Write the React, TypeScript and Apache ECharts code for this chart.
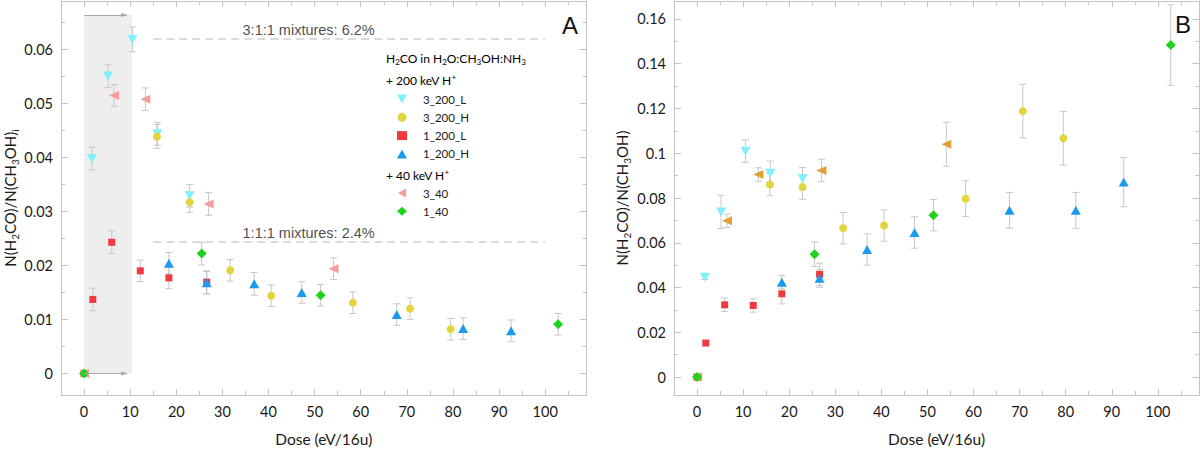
import React, { useEffect, useRef } from "react";
import * as echarts from "echarts";

// ---------------- DATA ----------------
const seriesNames = ["3_200_L", "3_200_H", "1_200_L", "1_200_H", "3_40", "1_40"];

// Dose (eV/16u) per series (shared by panels A and B)
const dose_3_200_L = [1.7, 5.2, 10.5, 15.9, 22.9];
const dose_3_200_H = [15.8, 22.9, 31.7, 40.6, 58.3, 70.7, 79.5];
const dose_1_200_L = [0, 1.9, 6.0, 12.2, 18.4, 26.6];
const dose_1_200_H = [18.4, 26.6, 36.9, 47.2, 67.8, 82.2, 92.6];
const dose_3_40 = [0, 6.5, 13.3, 27.0, 54.1];
const dose_1_40 = [0, 25.5, 51.3, 102.8];

// Panel A: N(H2CO)/N(CH3OH)_i
const a_3_200_L = [0.0398, 0.0551, 0.0619, 0.0444, 0.0329];
const a_3_200_L_err = [0.0021, 0.0021, 0.0023, 0.0021, 0.0021];
const a_3_200_H = [0.0439, 0.0317, 0.0191, 0.0144, 0.0131, 0.012, 0.0082];
const a_3_200_H_err = [0.0022, 0.0019, 0.002, 0.002, 0.002, 0.002, 0.002];
const a_1_200_L = [0, 0.0137, 0.0243, 0.019, 0.0177, 0.0169];
const a_1_200_L_err = [0, 0.0021, 0.0021, 0.002, 0.002, 0.0021];
const a_1_200_H = [0.0204, 0.0168, 0.0166, 0.015, 0.0109, 0.0083, 0.0079];
const a_1_200_H_err = [0.002, 0.0021, 0.0021, 0.002, 0.002, 0.002, 0.002];
const a_3_40 = [0, 0.0515, 0.0508, 0.0314, 0.0194];
const a_3_40_err = [0, 0.002, 0.0021, 0.0021, 0.002];
const a_1_40 = [0, 0.0222, 0.0145, 0.0091];
const a_1_40_err = [0, 0.0021, 0.002, 0.002];

// Panel B: N(H2CO)/N(CH3OH)
const b_3_200_L = [0.0446, 0.0738, 0.1009, 0.0911, 0.0886];
const b_3_200_L_err = [0.001, 0.0074, 0.005, 0.0054, 0.005];
const b_3_200_H = [0.086, 0.0849, 0.0665, 0.0677, 0.0797, 0.1188, 0.1067];
const b_3_200_H_err = [0.005, 0.0055, 0.007, 0.007, 0.008, 0.012, 0.012];
const b_1_200_L = [0, 0.0152, 0.0323, 0.032, 0.0372, 0.0459];
const b_1_200_L_err = [0, 0.001, 0.003, 0.003, 0.0045, 0.005];
const b_1_200_H = [0.0424, 0.0441, 0.057, 0.0646, 0.0745, 0.0745, 0.0871];
const b_1_200_H_err = [0.003, 0.004, 0.007, 0.007, 0.008, 0.008, 0.011];
const b_3_40 = [0, 0.0698, 0.0905, 0.0923, 0.104];
const b_3_40_err = [0, 0.003, 0.003, 0.005, 0.0098];
const b_1_40 = [0, 0.0549, 0.0723, 0.1483];
const b_1_40_err = [0, 0.0055, 0.007, 0.018];

// Axis ticks
const xTicks = [0, 10, 20, 30, 40, 50, 60, 70, 80, 90, 100];
const xMinorTicks = [-5, 5, 15, 25, 35, 45, 55, 65, 75, 85, 95, 105];
const yTicksA = [0, 0.01, 0.02, 0.03, 0.04, 0.05, 0.06];
const yMinorTicksA = [0.005, 0.015, 0.025, 0.035, 0.045, 0.055, 0.065];
const yTicksB = [0, 0.02, 0.04, 0.06, 0.08, 0.1, 0.12, 0.14, 0.16];
const yMinorTicksB = [0.01, 0.03, 0.05, 0.07, 0.09, 0.11, 0.13, 0.15];

// Reference levels in panel A
const refLabels = ["3:1:1 mixtures: 6.2%", "1:1:1 mixtures: 2.4%"];
const refValues = [0.062, 0.0244];
const refLabelValues = [0.0636, 0.026];
const refFrom = 15;
const refTo = 100;
const refLabelDose = 48.7;

// Shaded dose interval in panel A
const shadeDose = [0, 10.4];
const shadeTop = 0.0664;
const arrowEnd = 8.8;

// ---------------- STYLE ----------------
const FONT = "Lato, 'Liberation Sans', sans-serif";
const ARIAL = "'Liberation Sans', Arial, sans-serif";
const AXIS_COLOR = "#c4c4c4";
const TEXT = "#1a1a1a";
const colorsA = ["#7ff1fc", "#e2d43c", "#ef3b3f", "#1c9bee", "#f79c9c", "#20d21e"];
const colorsB = ["#7ff1fc", "#e2d43c", "#ef3b3f", "#1c9bee", "#e0a034", "#20d21e"];
const symbols = ["triangle", "circle", "rect", "triangle", "triangle", "diamond"];
const rotations = [180, 0, 0, 0, 90, 0];
const sizes = [[10, 9], 8, 7, [10, 9], [9, 10], [10, 10]];
const legendIcons = [
  "path://M0,0L10,0L5,9Z",
  "circle",
  "rect",
  "triangle",
  "path://M9,0L9,10L0,5Z",
  "diamond",
];

const doses = [dose_3_200_L, dose_3_200_H, dose_1_200_L, dose_1_200_H, dose_3_40, dose_1_40];
const valsA = [a_3_200_L, a_3_200_H, a_1_200_L, a_1_200_H, a_3_40, a_1_40];
const errsA = [a_3_200_L_err, a_3_200_H_err, a_1_200_L_err, a_1_200_H_err, a_3_40_err, a_1_40_err];
const valsB = [b_3_200_L, b_3_200_H, b_1_200_L, b_1_200_H, b_3_40, b_1_40];
const errsB = [b_3_200_L_err, b_3_200_H_err, b_1_200_L_err, b_1_200_H_err, b_3_40_err, b_1_40_err];

const subRich = {
  n: { fontSize: 15, fontFamily: FONT, color: TEXT, lineHeight: 20 },
  s: { fontSize: 10, fontFamily: FONT, color: TEXT, lineHeight: 12, verticalAlign: "bottom" },
};

function xAxes(gridIndex: number, withName: boolean) {
  const base = {
    type: "value",
    gridIndex,
    min: -5,
    max: 109,
    splitLine: { show: false },
  };
  const line = { lineStyle: { color: AXIS_COLOR, width: 1 } };
  return [
    {
      ...base,
      position: "bottom",
      name: withName ? "Dose (eV/16u)" : "",
      nameLocation: "middle",
      nameGap: 36,
      nameTextStyle: { fontFamily: FONT, fontSize: 15.5, color: TEXT },
      axisLine: { show: true, onZero: false, ...line },
      axisTick: { show: true, inside: true, length: 6, customValues: xTicks, ...line },
      axisLabel: { show: true, customValues: xTicks, fontFamily: FONT, fontSize: 14.5, color: TEXT, margin: 9 },
    },
    {
      ...base,
      position: "top",
      axisLine: { show: true, onZero: false, ...line },
      axisTick: { show: true, inside: true, length: 6, customValues: xTicks, ...line },
      axisLabel: { show: false },
    },
    {
      ...base,
      position: "bottom",
      axisLine: { show: false, onZero: false },
      axisTick: { show: true, inside: true, length: 4, customValues: xMinorTicks, ...line },
      axisLabel: { show: false },
    },
    {
      ...base,
      position: "top",
      axisLine: { show: false, onZero: false },
      axisTick: { show: true, inside: true, length: 4, customValues: xMinorTicks, ...line },
      axisLabel: { show: false },
    },
  ];
}

function yAxes(gridIndex: number, min: number, max: number, majors: number[], minors: number[], name: string, nameGap: number) {
  const base = { type: "value", gridIndex, min, max, splitLine: { show: false } };
  const line = { lineStyle: { color: AXIS_COLOR, width: 1 } };
  return [
    {
      ...base,
      position: "left",
      name,
      nameLocation: "middle",
      nameRotate: 90,
      nameGap,
      nameTextStyle: { rich: subRich },
      axisLine: { show: true, onZero: false, ...line },
      axisTick: { show: true, inside: true, length: 7, customValues: majors, ...line },
      axisLabel: { show: true, customValues: majors, fontFamily: FONT, fontSize: 14.5, color: TEXT, margin: 8 },
    },
    {
      ...base,
      position: "right",
      axisLine: { show: true, onZero: false, ...line },
      axisTick: { show: true, inside: true, length: 7, customValues: majors, ...line },
      axisLabel: { show: false },
    },
    {
      ...base,
      position: "left",
      axisLine: { show: false, onZero: false },
      axisTick: { show: true, inside: true, length: 4, customValues: minors, ...line },
      axisLabel: { show: false },
    },
    {
      ...base,
      position: "right",
      axisLine: { show: false, onZero: false },
      axisTick: { show: true, inside: true, length: 4, customValues: minors, ...line },
      axisLabel: { show: false },
    },
  ];
}

function errorSeries(name: string, axisIndex: number, vals: number[][], errs: number[][]) {
  const data: number[][] = [];
  doses.forEach((d, i) => d.forEach((x, j) => data.push([x, vals[i][j], errs[i][j]])));
  return {
    name,
    type: "custom",
    xAxisIndex: axisIndex,
    yAxisIndex: axisIndex,
    z: 2,
    silent: true,
    data,
    renderItem: (params: any, api: any) => {
      const x = api.value(0);
      const y = api.value(1);
      const e = api.value(2);
      if (!e) return { type: "group", children: [] };
      const top = api.coord([x, y + e]);
      const bot = api.coord([x, y - e]);
      const cap = 3.5;
      const style = { stroke: "#c8c8c8", lineWidth: 1 };
      return {
        type: "group",
        children: [
          { type: "line", shape: { x1: top[0], y1: top[1], x2: bot[0], y2: bot[1] }, style },
          { type: "line", shape: { x1: top[0] - cap, y1: top[1], x2: top[0] + cap, y2: top[1] }, style },
          { type: "line", shape: { x1: bot[0] - cap, y1: bot[1], x2: bot[0] + cap, y2: bot[1] }, style },
        ],
      };
    },
  };
}

function scatterSeries(axisIndex: number, vals: number[][], colors: string[]) {
  return seriesNames.map((name, i) => ({
    name,
    type: "scatter",
    xAxisIndex: axisIndex,
    yAxisIndex: axisIndex,
    z: 3,
    symbol: symbols[i],
    symbolRotate: rotations[i],
    symbolSize: sizes[i],
    itemStyle: { color: colors[i], opacity: 1 },
    data: doses[i].map((x, j) => [x, vals[i][j]]),
  }));
}

export default function App() {
  const ref = useRef<HTMLDivElement>(null);

  useEffect(() => {
    if (!ref.current) return;
    const chart = echarts.init(ref.current, undefined, { renderer: "svg" });

    const decorA = {
      name: "decorA",
      type: "scatter",
      xAxisIndex: 0,
      yAxisIndex: 0,
      z: 1,
      silent: true,
      data: [],
      markArea: {
        silent: true,
        itemStyle: { color: "#eeeeee" },
        data: [[{ coord: [shadeDose[0], 0] }, { coord: [shadeDose[1], shadeTop] }]],
      },
      markLine: {
        silent: true,
        symbol: "none",
        label: { show: false },
        data: [
          ...refValues.map((v) => [
            { coord: [refFrom, v], lineStyle: { color: "#cfcfcf", width: 1.5, type: [8, 5] } },
            { coord: [refTo, v] },
          ]),
          [
            { coord: [shadeDose[0], shadeTop], symbol: "none", lineStyle: { color: "#a8a8a8", width: 1, type: "solid" } },
            { coord: [arrowEnd, shadeTop], symbol: "triangle", symbolSize: [4, 7], itemStyle: { color: "#6e6e6e" } },
          ],
          [
            { coord: [shadeDose[0], 0], symbol: "none", lineStyle: { color: "#a8a8a8", width: 1, type: "solid" } },
            { coord: [arrowEnd, 0], symbol: "triangle", symbolSize: [4, 7], itemStyle: { color: "#6e6e6e" } },
          ],
        ],
      },
    };

    const annot = {
      name: "annotA",
      type: "scatter",
      xAxisIndex: 0,
      yAxisIndex: 0,
      z: 4,
      silent: true,
      symbolSize: 1,
      itemStyle: { color: "rgba(0,0,0,0)" },
      data: refLabels.map((t, i) => ({
        value: [refLabelDose, refLabelValues[i]],
        label: { show: true, position: "inside", formatter: t, fontFamily: ARIAL, fontSize: 14.5, color: TEXT },
      })),
    };

    const legendText = { fontFamily: FONT, fontSize: 11.5, color: TEXT, lineHeight: 13, padding: [0, 0, 0, 11] };
    const headRich = {
      n: { fontSize: 12, fontFamily: FONT, color: TEXT, lineHeight: 15 },
      s: { fontSize: 8, fontFamily: FONT, color: TEXT, lineHeight: 9, verticalAlign: "bottom" },
      p: { fontSize: 8, fontFamily: FONT, color: TEXT, lineHeight: 9, verticalAlign: "top" },
    };
    const legendBase = {
      orient: "vertical",
      left: 397,
      padding: 0,
      itemWidth: 10,
      itemHeight: 9,
      itemGap: 5.3,
      selectedMode: false,
      textStyle: legendText,
    };
    const legendItems = seriesNames.map((name, i) => ({ name, icon: legendIcons[i] }));

    chart.setOption({
      animation: false,
      backgroundColor: "#ffffff",
      grid: [
        { left: 61, top: 1, width: 525.7, height: 396 },
        { left: 674, top: 1, width: 525.3, height: 396 },
      ],
      xAxis: [...xAxes(0, true), ...xAxes(1, true)],
      yAxis: [
        ...yAxes(0, -0.004, 0.069, yTicksA, yMinorTicksA, "{n|N(H}{s|2}{n|CO)/N(CH}{s|3}{n|OH)}{s|i}", 36),
        ...yAxes(1, -0.008, 0.168, yTicksB, yMinorTicksB, "{n|N(H}{s|2}{n|CO)/N(CH}{s|3}{n|OH)}", 42),
      ],
      legend: [
        { ...legendBase, data: legendItems.slice(0, 4), top: 92.5 },
        { ...legendBase, data: legendItems.slice(4), top: 186.5 },
      ],
      graphic: [
        {
          type: "text",
          x: 386,
          y: 58,
          silent: true,
          style: {
            text: "{n|H}{s|2}{n|CO in H}{s|2}{n|O:CH}{s|3}{n|OH:NH}{s|3}",
            rich: headRich,
            verticalAlign: "middle",
            align: "left",
          },
        },
        {
          type: "text",
          x: 386,
          y: 80,
          silent: true,
          style: { text: "{n|+ 200 keV H}{p|+}", rich: headRich, verticalAlign: "middle", align: "left" },
        },
        {
          type: "text",
          x: 386,
          y: 175,
          silent: true,
          style: { text: "{n|+ 40 keV H}{p|+}", rich: headRich, verticalAlign: "middle", align: "left" },
        },
        {
          type: "text",
          x: 570,
          y: 25,
          silent: true,
          style: { text: "A", font: `24px ${ARIAL}`, fill: "#111", align: "center", verticalAlign: "middle" },
        },
        {
          type: "text",
          x: 1183,
          y: 24,
          silent: true,
          style: { text: "B", font: `24px ${ARIAL}`, fill: "#111", align: "center", verticalAlign: "middle" },
        },
      ],
      series: [
        decorA,
        errorSeries("errA", 0, valsA, errsA),
        ...scatterSeries(0, valsA, colorsA),
        annot,
        errorSeries("errB", 4, valsB, errsB),
        ...scatterSeries(4, valsB, colorsB),
      ],
    });

    return () => chart.dispose();
  }, []);

  return (
    <div
      ref={ref}
      style={{ position: "absolute", left: 0, top: 0, width: 1200, height: 452 }}
    />
  );
}
